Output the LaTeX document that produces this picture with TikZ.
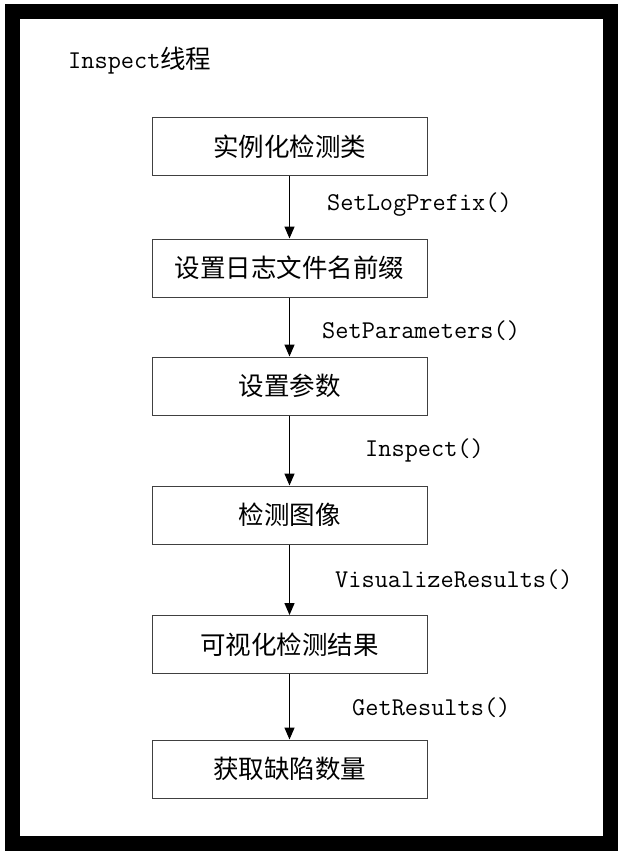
\documentclass[tikz,border=0pt]{standalone}
\usepackage{fontspec}
\setmonofont{Latin Modern Mono}
\newfontfamily\cjk{Noto Sans CJK SC}
\usetikzlibrary{arrows.meta}
\definecolor{boxline}{gray}{0.25}
\tikzstyle{process}=[draw=boxline, line width=1pt, rectangle, minimum width=275pt, minimum height=58pt, inner sep=0pt, font=\cjk\fontsize{25.5}{26}\selectfont]
\tikzstyle{call}=[anchor=west, inner sep=0pt, font=\ttfamily\fontsize{25.6}{26}\selectfont]
\tikzstyle{flow}=[draw, line width=1.4pt, -{Triangle[width=10pt,length=12pt]}]

\begin{document}
\begin{tikzpicture}[x=1pt, y=-1pt]
  \useasboundingbox[fill=white] (0,0) rectangle (625,861);
  \draw[line width=15pt] (12.5,11.5) rectangle (610.5,843);

  \node[call] (title) at (68,61) {Inspect{\cjk\fontsize{25.5}{26}\selectfont 线程}};

  \node[process] (B1) at (289.5,147) {实例化检测类};
  \node[process] (B2) at (289.5,268) {设置日志文件名前缀};
  \node[process] (B3) at (289.5,386) {设置参数};
  \node[process] (B4) at (289.5,515) {检测图像};
  \node[process] (B5) at (289.5,644.5) {可视化检测结果};
  \node[process] (B6) at (289.5,769) {获取缺陷数量};

  \path (B1) edge[flow] (B2);
  \path (B2) edge[flow] (B3);
  \path (B3) edge[flow] (B4);
  \path (B4) edge[flow] (B5);
  \path (B5) edge[flow] (B6);

  \node[call] (L1) at (327,205) {SetLogPrefix()};
  \node[call] (L2) at (322,331) {SetParameters()};
  \node[call] (L3) at (365,450) {Inspect()};
  \node[call] (L4) at (335,580) {VisualizeResults()};
  \node[call] (L5) at (352,708) {GetResults()};
\end{tikzpicture}
\end{document}
